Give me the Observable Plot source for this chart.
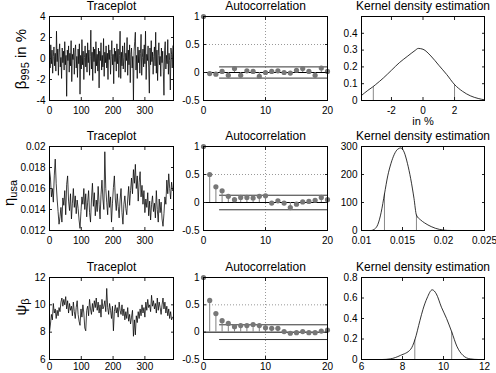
<!DOCTYPE html>
<html><head><meta charset="utf-8">
<script src="https://cdn.jsdelivr.net/npm/d3@7"></script>
<script src="https://cdn.jsdelivr.net/npm/@observablehq/plot@0.6"></script>
<style>
body{margin:0;background:#fff}
#chart{position:relative;width:496px;height:373px;overflow:hidden;font-family:"Liberation Sans",Arial,Helvetica,sans-serif}
#chart svg{position:absolute;left:0;top:0}
</style></head><body><div id="chart"></div>
<script>
// ---------- data ----------
const titles = ["Traceplot", "Autocorrelation", "Kernel density estimation"];
const traceStepBeta = 2; // draw index spacing of the stored samples
const traceStep = 3;
const traceBeta = [
 0.4,-0.9,1.3,-0.5,0.8,-1.4,0.2,1.1,-0.7,0.5,-1.2,2.6,-0.3,0.9,-1.6,
 0.6,1.4,-0.8,0.1,-1.9,1.0,-0.4,0.7,-1.1,1.6,-0.6,0.3,-3.6,0.8,-0.2,
 1.2,-1.3,0.5,-0.7,1.7,-2.2,0.4,-0.1,1.0,-1.5,0.6,1.3,-0.9,0.2,-1.8,
 0.9,-0.5,1.4,-3.4,0.3,-1.0,1.8,-0.6,0.7,-2.0,0.1,1.2,-0.8,0.5,-1.3,
 1.5,-0.4,0.8,-1.6,0.2,2.7,-1.0,0.6,-2.1,1.1,-0.3,0.9,-1.4,1.6,-0.7,
 0.4,-1.2,1.0,-2.8,0.7,-0.2,1.5,-1.1,0.3,-0.8,1.9,-1.7,0.6,-0.4,1.2,
 -0.9,0.5,-2.0,1.3,-0.1,0.8,-1.5,0.2,1.7,-0.6,0.4,-2.4,1.0,-0.3,0.7,
 -1.2,1.4,-0.5,0.9,-1.8,0.3,2.6,-1.9,0.6,-0.7,1.2,-1.0,0.1,1.5,-1.3,
 0.5,-0.2,2.0,-1.6,0.8,-0.6,1.3,-2.3,0.4,1.0,-0.9,0.2,-4.0,0.7,1.6,
 2.5,-1.1,0.3,-1.9,1.1,-0.4,0.8,-1.4,0.5,2.3,-1.6,0.1,0.9,-0.8,1.3,
 -0.5,2.6,-2.0,0.4,-0.2,1.2,-0.9,-3.3,1.0,-0.6,1.7,-0.3,0.6,-1.5,0.2,
 1.1,-0.7,2.5,-1.4,0.8,-2.1,0.3,1.5,-0.6,0.2,-1.7,1.0,-0.4,0.7,-1.2,
 -3.5,0.8,1.6,-1.0,0.3,-0.5,1.8,-1.5,0.5,-0.2,-3.0,1.0,0.4,-0.9,1.2];
const traceEta = [
 0.0178,0.0170,0.0152,0.0160,0.0147,0.0172,0.0188,0.0165,0.0150,0.0138,
 0.0126,0.0133,0.0142,0.0128,0.0151,0.0144,0.0158,0.0135,0.0164,0.0172,
 0.0148,0.0139,0.0155,0.0131,0.0146,0.0160,0.0142,0.0153,0.0136,0.0149,
 0.0141,0.0130,0.0122,0.0138,0.0152,0.0145,0.0160,0.0140,0.0155,0.0133,
 0.0147,0.0158,0.0137,0.0128,0.0150,0.0165,0.0143,0.0156,0.0134,0.0149,
 0.0138,0.0162,0.0145,0.0131,0.0154,0.0168,0.0150,0.0140,0.0195,0.0160,
 0.0147,0.0135,0.0158,0.0142,0.0152,0.0128,0.0146,0.0161,0.0172,0.0150,
 0.0139,0.0155,0.0143,0.0132,0.0149,0.0160,0.0137,0.0126,0.0145,0.0153,
 0.0141,0.0135,0.0150,0.0162,0.0144,0.0158,0.0170,0.0155,0.0178,0.0165,
 0.0183,0.0160,0.0172,0.0148,0.0166,0.0176,0.0152,0.0163,0.0145,0.0158,
 0.0137,0.0150,0.0142,0.0156,0.0134,0.0148,0.0130,0.0145,0.0153,0.0138,
 0.0146,0.0132,0.0158,0.0140,0.0128,0.0150,0.0137,0.0147,0.0131,0.0124,
 0.0136,0.0152,0.0145,0.0168,0.0155,0.0174,0.0160,0.0150,0.0166,0.0158];
const tracePsi = [
 8.0,8.6,9.3,8.9,10.1,9.4,9.7,9.0,9.6,9.2,
 9.8,9.5,10.2,10.5,9.9,10.4,10.0,10.6,9.7,10.3,
 9.4,10.1,9.6,9.9,9.2,10.2,9.5,9.0,9.8,10.3,
 9.3,8.8,8.5,9.7,9.1,10.0,9.4,8.3,8.1,9.6,
 9.9,9.2,10.4,9.7,9.3,10.1,9.5,10.3,9.8,10.5,
 9.6,10.2,9.4,10.0,9.1,10.4,9.7,9.9,10.3,9.5,
 11.2,9.8,9.3,10.1,9.6,9.0,9.9,8.1,9.5,10.0,
 9.4,9.8,9.1,10.2,9.6,9.3,10.0,9.2,9.7,8.9,
 9.5,9.0,9.8,8.8,9.3,8.6,9.1,9.6,7.7,8.9,
 7.8,9.2,8.7,9.5,9.0,9.7,9.2,10.0,9.4,9.8,
 9.1,10.2,9.6,10.4,9.8,10.0,9.5,10.7,9.9,10.3,
 9.7,10.1,9.4,10.5,9.6,10.2,9.8,9.3,10.0,10.5,
 9.7,10.2,9.4,9.9,9.2,9.7,9.0,9.5,8.9,9.1];

const acfLags = [0,1,2,3,4,5,6,7,8,9,10,11,12,13,14,15,16,17,18,19,20];
const acfBeta = [1,-0.02,-0.03,0.02,-0.05,0.07,-0.05,0.03,0.02,-0.07,0.0,0.02,0.03,0.0,-0.01,0.04,0.07,0.02,-0.05,0.08,0.02];
const acfEta  = [1,0.5,0.28,0.21,0.11,0.05,0.09,0.09,0.08,0.11,0.12,-0.01,0.03,-0.01,-0.09,-0.03,0.01,0.02,0.04,0.09,0.05];
const acfPsi  = [1,0.58,0.34,0.21,0.16,0.1,0.12,0.12,0.14,0.12,0.08,0.07,0.07,0.01,-0.02,-0.01,0.01,-0.01,-0.01,0.02,0.04];
const acfBands = [0.1, 0.13, 0.135];
const bandStartLag = 2.6;

const kdeBetaX = [-3.9,-3.5,-3.2,-3.0,-2.5,-2.0,-1.5,-1.0,-0.5,-0.3,0,0.5,1.0,1.5,2.0,2.5,3.0,3.5,3.9];
const kdeBetaY = [0.03,0.06,0.08,0.095,0.135,0.18,0.225,0.262,0.298,0.31,0.305,0.265,0.21,0.155,0.095,0.055,0.028,0.012,0.004];
const kdeEtaX = [0.0112,0.0116,0.012,0.0124,0.0128,0.0132,0.0136,0.014,0.0144,0.0148,0.0152,0.0156,0.016,0.0164,0.0167,0.0172,0.0177,0.0185,0.019,0.0195,0.02,0.0205,0.021,0.025];
const kdeEtaY = [0,5,22,65,130,195,240,272,290,295,280,240,185,115,55,38,27,14,8,4,1.5,0.3,0,0];
const kdePsiX = [6,7.0,7.4,7.9,8.4,8.6,8.85,9.0,9.2,9.45,9.65,9.9,10.15,10.4,10.65,10.95,11.3,11.7,12];
const kdePsiY = [0,0,0.006,0.04,0.1,0.19,0.38,0.49,0.6,0.68,0.64,0.51,0.4,0.27,0.13,0.04,0.006,0,0];
const ciBetaX = [-3.15, 2.0], ciBetaY = [0.081, 0.095];
const ciEtaX = [0.0128, 0.0167], ciEtaY = [130, 55];
const ciPsiX = [8.6, 10.4], ciPsiY = [0.19, 0.27];

const traceXTicks = [0,100,200,300];
const acfXTicks = [0,10,20];
const acfYTicks = [-0.5,0,0.5,1];
const yTicksTrace = [[-4,-2,0,2,4],[0.012,0.014,0.016,0.018,0.02],[6,8,10,12]];
const xTicksKde = [[-2,0,2],[0.01,0.015,0.02,0.025],[6,8,10,12]];
const yTicksKde = [[0,0.1,0.2,0.3,0.4],[0,100,200,300],[0,0.2,0.4,0.6,0.8]];
const yLabels = [["β","995"," in %"],["η","usa",""],["ψ","β",""]];
const xLabelKde1 = "in %";

// ---------- layout ----------
const W = 496, H = 373;
const cols = [[49,173],[203,327],[361,484]];
const rowsY = [[16,100],[146,230],[277,359]];
const xPad = [6, 6, 3];
const font = '"Liberation Sans", Arial, Helvetica, sans-serif';
const fmt = d => String(d);
const chart = document.getElementById("chart");

function panel(r, c, xs, ys, marks) {
  const svg = Plot.plot({
    width: W, height: H,
    marginLeft: cols[c][0], marginRight: W - cols[c][1],
    marginTop: rowsY[r][0], marginBottom: H - rowsY[r][1],
    style: {background: "transparent", position: "absolute", left: "0px", top: "0px", overflow: "visible", fontFamily: font, fontSize: "10px", color: "black"},
    x: {domain: xs.domain},
    y: {domain: ys.domain},
    marks: [
      ...marks,
      Plot.axisX(xs.ticks, {anchor: "bottom", tickSize: -3, fill: "none", label: null, stroke: "#222"}),
      Plot.axisX(xs.ticks, {anchor: "top", tickSize: -3, fill: "none", label: null, stroke: "#222"}),
      Plot.axisY(ys.ticks, {anchor: "left", tickSize: -3, fill: "none", label: null, stroke: "#222"}),
      Plot.axisY(ys.ticks, {anchor: "right", tickSize: -3, fill: "none", label: null, stroke: "#222"}),
      Plot.frame({stroke: "black", strokeWidth: 1}),
      Plot.axisX(xs.ticks, {anchor: "bottom", tickSize: 0, tickPadding: xPad[r], tickFormat: fmt, label: null, fontSize: 10}),
      Plot.axisY(ys.ticks, {anchor: "left", tickSize: 0, tickPadding: 4, tickFormat: fmt, label: null, fontSize: 10}),
      Plot.text([titles[c]], {frameAnchor: "top", lineAnchor: "bottom", dy: -7, fontSize: 12, fill: "black"})
    ]
  });
  chart.appendChild(svg);
}

const traces = [traceBeta, traceEta, tracePsi];
const steps = [traceStepBeta, traceStep, traceStep];
const acfs = [acfBeta, acfEta, acfPsi];
const kdes = [[kdeBetaX, kdeBetaY],[kdeEtaX, kdeEtaY],[kdePsiX, kdePsiY]];
const cis = [[ciBetaX, ciBetaY],[ciEtaX, ciEtaY],[ciPsiX, ciPsiY]];
const traceYDomains = [[-4,4],[0.012,0.02],[6,12]];
const kdeXDomains = [[-3.9,3.9],[0.01,0.025],[6,12]];
const kdeYDomains = [[0,0.5],[0,300],[0,0.8]];

for (let r = 0; r < 3; r++) {
  // traceplot
  const td = traces[r].map((v, i) => ({x: i * steps[r], v}));
  panel(r, 0, {domain: [0, 390], ticks: traceXTicks}, {domain: traceYDomains[r], ticks: yTicksTrace[r]}, [
    Plot.line(td, {x: "x", y: "v", stroke: "black", strokeWidth: 0.75})
  ]);
  // autocorrelation
  const ad = acfLags.map((lag, i) => ({lag, v: acfs[r][i]}));
  const b = acfBands[r];
  panel(r, 1, {domain: [0, 20], ticks: acfXTicks}, {domain: [-0.5, 1], ticks: acfYTicks}, [
    Plot.ruleX([10], {stroke: "#999", strokeDasharray: "1,2"}),
    Plot.ruleY([0.5], {stroke: "#999", strokeDasharray: "1,2"}),
    Plot.ruleY([0], {stroke: "black"}),
    Plot.ruleY([b, -b], {x1: bandStartLag, x2: 20, stroke: "#333"}),
    Plot.ruleX(ad, {x: "lag", y1: 0, y2: "v", stroke: "#808080"}),
    Plot.dot(ad, {x: "lag", y: "v", r: 2.6, fill: "#777", stroke: "none"})
  ]);
  // kernel density
  const [kx, ky] = kdes[r];
  const kd = kx.map((x, i) => ({x, y: ky[i]}));
  const [cx, cy] = cis[r];
  const cd = cx.map((x, i) => ({x, y: cy[i]}));
  const extra = r === 0 ? [Plot.text([xLabelKde1], {frameAnchor: "bottom", lineAnchor: "bottom", dy: 24, fontSize: 11, fill: "black"})] : [];
  panel(r, 2, {domain: kdeXDomains[r], ticks: xTicksKde[r]}, {domain: kdeYDomains[r], ticks: yTicksKde[r]}, [
    Plot.ruleX(cd, {x: "x", y1: 0, y2: "y", stroke: "#888"}),
    Plot.line(kd, {x: "x", y: "y", stroke: "black", strokeWidth: 0.8, curve: "monotone-x"}),
    ...extra
  ]);
}

// y-axis labels with subscripts
const lab = d3.create("svg").attr("width", W).attr("height", H)
  .style("position", "absolute").style("left", "0px").style("top", "0px")
  .attr("font-family", font);
const labPos = [[26, 59], [14, 193], [26, 307]];
yLabels.forEach(([m, s, rest], i) => {
  const t = lab.append("text")
    .attr("transform", `translate(${labPos[i][0]},${labPos[i][1]}) rotate(-90)`)
    .attr("text-anchor", "middle").attr("font-size", 15).attr("fill", "black");
  t.append("tspan").text(m);
  t.append("tspan").attr("font-size", 11).attr("dy", 3).text(s);
  if (rest) t.append("tspan").attr("dy", -3).text(rest);
});
chart.appendChild(lab.node());
</script></body></html>
